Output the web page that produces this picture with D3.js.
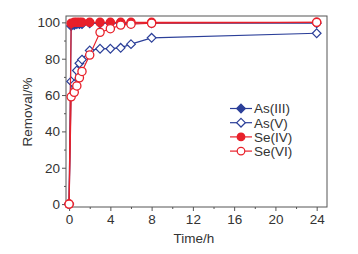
<!DOCTYPE html>
<html>
<head>
<meta charset="utf-8">
<script src="https://cdn.jsdelivr.net/npm/d3@7"></script>
<style>
  body { margin: 0; background: #fff; }
  svg text { font-family: "Liberation Sans", Arial, sans-serif; fill: #333; }
</style>
</head>
<body>
<svg id="graph"></svg>
<script>
// time points (h)
var times = [0, 0.2, 0.5, 0.75, 1, 1.25, 2, 3, 4, 5, 6, 8, 24];
var asIII = [0, 98, 98.5, 99, 99, 99, 99.5, 99.5, 99.5, 99.5, 99.5, 99.5, 99.5];
var asV   = [0, 67.5, 66, 73.5, 77.5, 79.5, 84.5, 85.5, 85.5, 86, 88, 91.5, 94];
var seIV  = [0, 99.5, 100, 100, 100, 100, 100, 100, 100, 100, 100, 100, 100];
var seVI  = [0, 59, 61.5, 65, 69.5, 73, 82, 94.5, 96.5, 98.5, 99, 99.5, 100];
var seriesNames = ["As(III)", "As(V)", "Se(IV)", "Se(VI)"];
var xTicks = [0, 4, 8, 12, 16, 20, 24];
var yTicks = [0, 20, 40, 60, 80, 100];

function drawChart() {
    var width = 358, height = 254;
    var margin = {left: 66, right: 31, top: 16, bottom: 47};
    var blue = "#2b3f99", red = "#e8202a";

    var svg = d3.select("#graph")
        .attr("width", width)
        .attr("height", height);

    var x = d3.scaleLinear().domain([-0.3, 25]).range([margin.left, width - margin.right]);
    var y = d3.scaleLinear().domain([-1.6, 103.5]).range([height - margin.bottom, margin.top]);

    var series = [
        {name: seriesNames[0], vals: asIII, color: blue, shape: "diamond", fill: true},
        {name: seriesNames[1], vals: asV, color: blue, shape: "diamond", fill: false},
        {name: seriesNames[2], vals: seIV, color: red, shape: "circle", fill: true},
        {name: seriesNames[3], vals: seVI, color: red, shape: "circle", fill: false}
    ];

    // axes
    svg.append("g")
        .attr("transform", "translate(0," + (height - margin.bottom) + ")")
        .call(d3.axisBottom(x).tickValues(xTicks).tickSize(4).tickPadding(3).tickFormat(d3.format("d")));
    svg.append("g")
        .attr("transform", "translate(0," + (height - margin.bottom) + ")")
        .call(d3.axisBottom(x).tickValues(d3.range(2, 25, 4)).tickSize(2).tickFormat(""));
    svg.append("g")
        .attr("transform", "translate(" + margin.left + ",0)")
        .call(d3.axisLeft(y).tickValues(yTicks).tickSize(4).tickPadding(2));
    svg.append("g")
        .attr("transform", "translate(" + margin.left + ",0)")
        .call(d3.axisLeft(y).tickValues(d3.range(10, 101, 20)).tickSize(2).tickFormat(""));

    svg.selectAll(".domain").remove();
    svg.selectAll(".tick line").attr("stroke", "#555");
    svg.selectAll(".tick text").attr("font-size", 13.5);

    svg.append("rect")
        .attr("x", margin.left).attr("y", margin.top)
        .attr("width", width - margin.left - margin.right)
        .attr("height", height - margin.top - margin.bottom)
        .attr("fill", "none").attr("stroke", "#555").attr("stroke-width", 1);

    var line = d3.line()
        .x(function (d) { return x(d[0]); })
        .y(function (d) { return y(d[1]); });

    var diamond = d3.symbol().type(d3.symbolDiamond2).size(48);

    series.forEach(function (s) {
        var pts = times.map(function (t, i) { return [t, s.vals[i]]; });
        var g = svg.append("g");
        g.append("path")
            .attr("d", line(pts))
            .attr("fill", "none")
            .attr("stroke", s.color)
            .attr("stroke-width", 1.2);
        var m = g.selectAll(".m").data(pts).enter();
        if (s.shape == "circle") {
            m.append("circle")
                .attr("cx", function (d) { return x(d[0]); })
                .attr("cy", function (d) { return y(d[1]); })
                .attr("r", 4.1)
                .attr("fill", s.fill ? s.color : "#fff")
                .attr("stroke", s.color).attr("stroke-width", 1.3);
        } else {
            m.append("path")
                .attr("d", diamond)
                .attr("transform", function (d) { return "translate(" + x(d[0]) + "," + y(d[1]) + ")"; })
                .attr("fill", s.fill ? s.color : "#fff")
                .attr("stroke", s.color).attr("stroke-width", 1.2);
        }
    });

    // legend
    var lg = svg.append("g");
    series.forEach(function (s, i) {
        var ly = 108.5 + i * 14.2;
        lg.append("line")
            .attr("x1", 230).attr("x2", 252).attr("y1", ly).attr("y2", ly)
            .attr("stroke", s.color).attr("stroke-width", 1.2);
        if (s.shape == "circle") {
            lg.append("circle").attr("cx", 241).attr("cy", ly).attr("r", 3.8)
                .attr("fill", s.fill ? s.color : "#fff")
                .attr("stroke", s.color).attr("stroke-width", 1.2);
        } else {
            lg.append("path").attr("d", diamond)
                .attr("transform", "translate(241," + ly + ")")
                .attr("fill", s.fill ? s.color : "#fff")
                .attr("stroke", s.color).attr("stroke-width", 1.2);
        }
        lg.append("text")
            .attr("x", 254).attr("y", ly + 4.8)
            .attr("font-size", 13.5)
            .text(s.name);
    });

    // axis titles
    svg.append("text")
        .attr("x", 194).attr("y", 243)
        .attr("text-anchor", "middle")
        .attr("font-size", 13.5)
        .text("Time/h");
    svg.append("text")
        .attr("transform", "translate(32,112) rotate(-90)")
        .attr("text-anchor", "middle")
        .attr("font-size", 13.5)
        .text("Removal/%");
}

drawChart();
</script>
</body>
</html>
